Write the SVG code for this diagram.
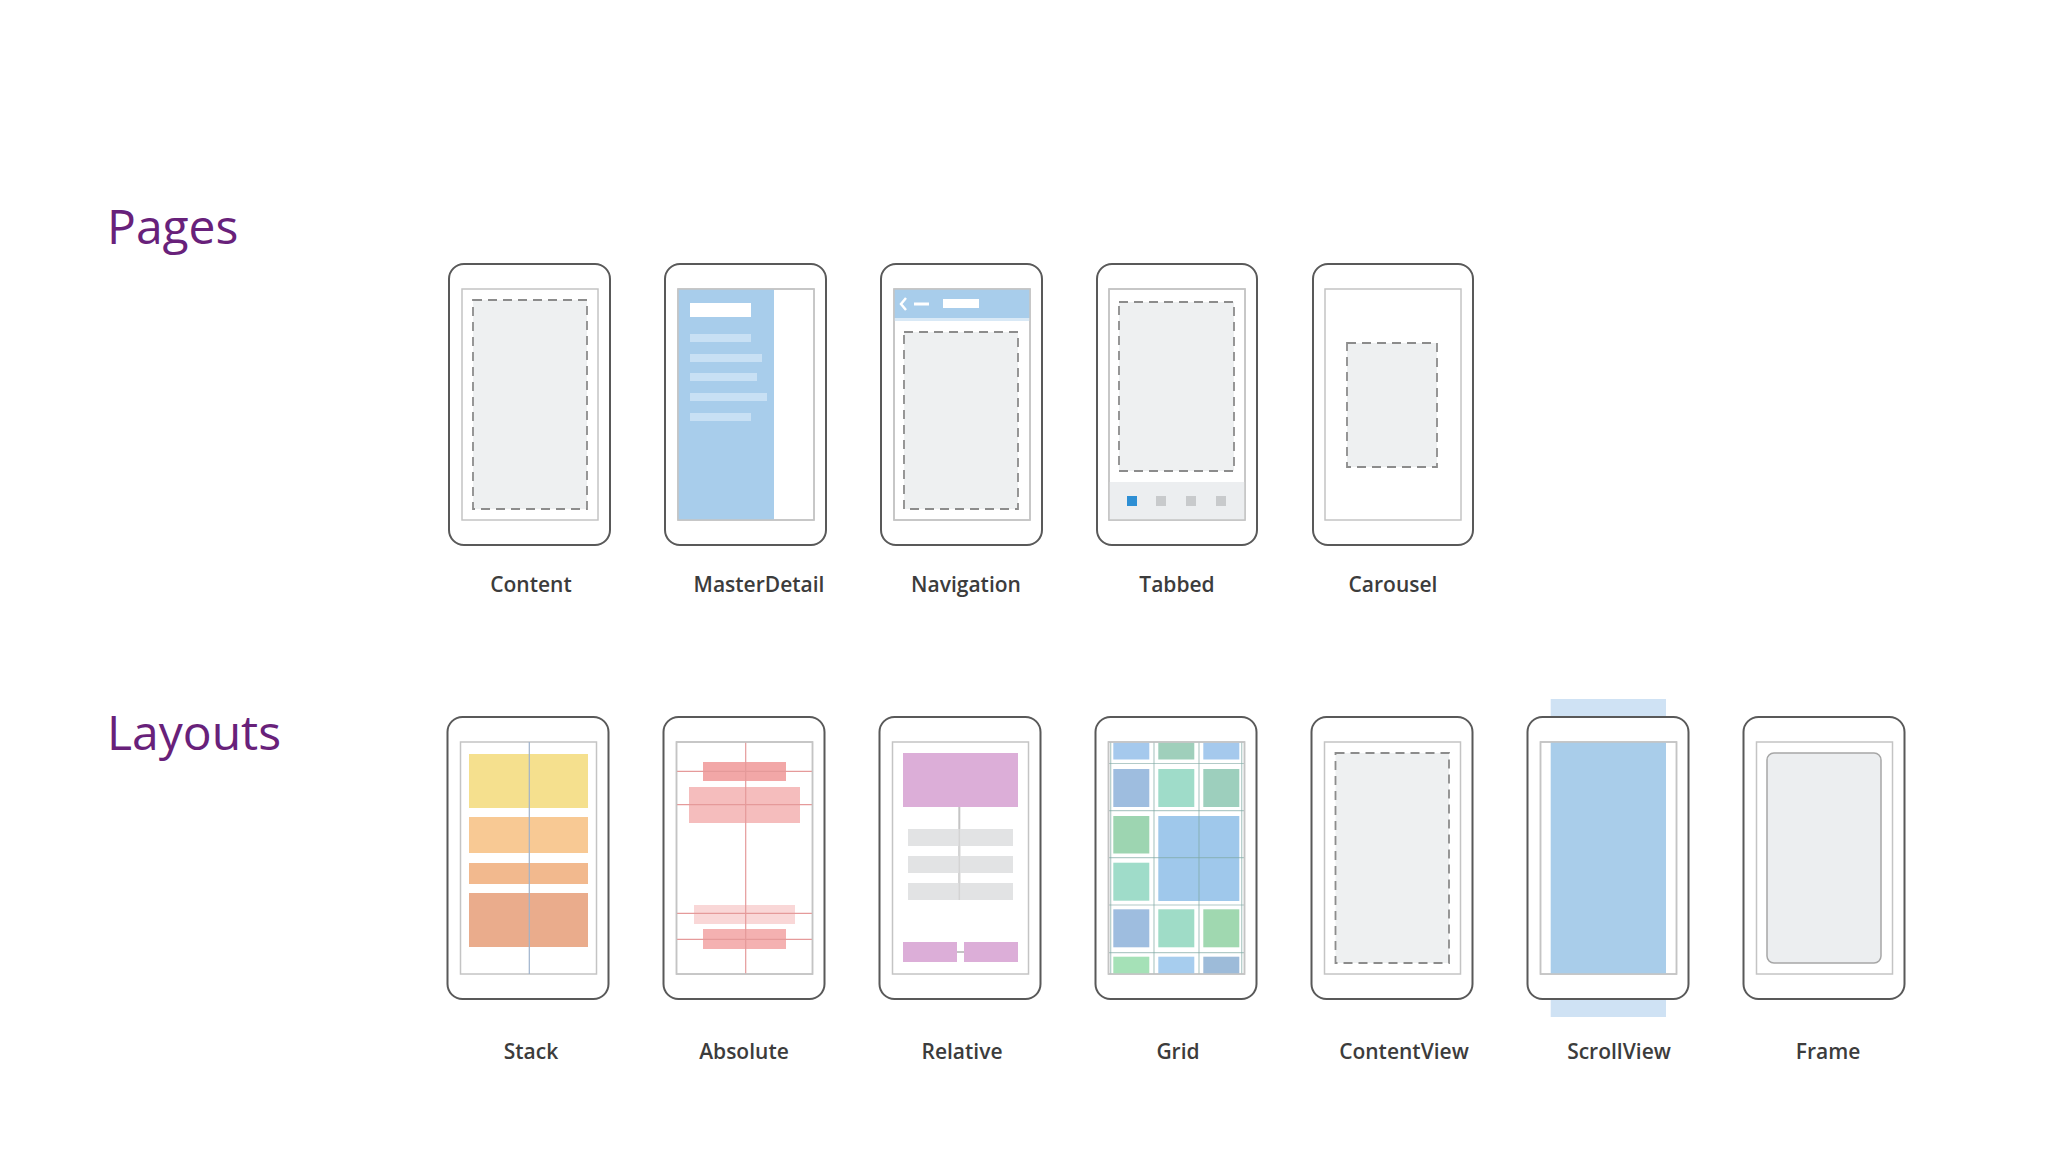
<svg xmlns="http://www.w3.org/2000/svg" width="2048" height="1152" viewBox="0 0 2048 1152">
<style>
.bg{fill:#ffffff}
.title{font-family:"Open Sans","Noto Sans","Liberation Sans",sans-serif;font-size:48px;fill:#68217a}
.label{font-family:"Open Sans","Noto Sans","Liberation Sans",sans-serif;font-size:21px;font-weight:600;fill:#3c3c3c;text-anchor:middle}
.phone{fill:#ffffff;stroke:#595959;stroke-width:2}
.screen{fill:#ffffff;stroke:#c4c4c4;stroke-width:1.5}
.screenline{fill:none;stroke:#c4c4c4;stroke-width:1.5}
.dash{fill:#eef0f1;stroke:#8c8c8c;stroke-width:1.8;stroke-dasharray:9 6}
.blue{fill:#a8cdeb}
.mdline{fill:#c8e0f4}
.white{fill:#ffffff}
.tabbar{fill:#eceef0}
.tabon{fill:#2e8fd4}
.taboff{fill:#c8cacc}
.gbar{fill:#e2e3e4}
.purp{fill:#dcaed8}
.rline{stroke:#c4c4c4;stroke-width:2;fill:none}
.aline{stroke:#e59a9a;stroke-width:1.2;fill:none}
.sline{stroke:#9fb3cc;stroke-width:1.2;fill:none}
.gline{stroke:#7fa9a3;stroke-opacity:0.6;stroke-width:1.2;fill:none}
</style>
<rect class="bg" x="0" y="0" width="2048" height="1152"/>

<g id="title-pages"><text class="title" x="107" y="244">Pages</text></g>
<g id="title-layouts"><text class="title" x="107" y="750">Layouts</text></g>

<!-- ===== Pages row ===== -->
<g id="page-content">
  <rect class="phone" x="449" y="264" width="161" height="281" rx="15"/>
  <rect class="screen" x="462" y="289" width="136" height="231"/>
  <rect class="dash" x="473" y="300" width="114" height="209"/>
  <text class="label" x="531" y="592">Content</text>
</g>

<g id="page-masterdetail">
  <rect class="phone" x="665" y="264" width="161" height="281" rx="15"/>
  <rect class="screen" x="678" y="289" width="136" height="231"/>
  <rect class="blue" x="678" y="289" width="96" height="231"/>
  <rect class="white" x="690" y="303" width="61" height="14"/>
  <rect class="mdline" x="690" y="334" width="61" height="8"/>
  <rect class="mdline" x="690" y="354" width="72" height="8"/>
  <rect class="mdline" x="690" y="373" width="67" height="8"/>
  <rect class="mdline" x="690" y="393" width="77" height="8"/>
  <rect class="mdline" x="690" y="413" width="61" height="8"/>
  <rect class="screenline" x="678" y="289" width="136" height="231"/>
  <text class="label" x="759" y="592">MasterDetail</text>
</g>

<g id="page-navigation">
  <rect class="phone" x="881" y="264" width="161" height="281" rx="15"/>
  <rect class="screen" x="894" y="289" width="136" height="231"/>
  <rect class="blue" x="894" y="289" width="136" height="29"/>
  <rect fill="#d9e9f6" x="894" y="318" width="136" height="3"/>
  <polyline points="906,298 901,304 906,310" fill="none" stroke="#ffffff" stroke-width="2.5"/>
  <rect class="white" x="914" y="302.5" width="15" height="3"/>
  <rect class="white" x="943" y="299" width="36" height="9"/>
  <rect class="dash" x="904" y="332" width="114" height="177"/>
  <rect class="screenline" x="894" y="289" width="136" height="231"/>
  <text class="label" x="966" y="592">Navigation</text>
</g>

<g id="page-tabbed">
  <rect class="phone" x="1097" y="264" width="160" height="281" rx="15"/>
  <rect class="screen" x="1109" y="289" width="136" height="231"/>
  <rect class="tabbar" x="1109" y="482" width="136" height="38"/>
  <rect class="dash" x="1119" y="302" width="115" height="169"/>
  <rect class="tabon" x="1127" y="496" width="10" height="10"/>
  <rect class="taboff" x="1156" y="496" width="10" height="10"/>
  <rect class="taboff" x="1186" y="496" width="10" height="10"/>
  <rect class="taboff" x="1216" y="496" width="10" height="10"/>
  <rect class="screenline" x="1109" y="289" width="136" height="231"/>
  <text class="label" x="1177" y="592">Tabbed</text>
</g>

<g id="page-carousel">
  <rect class="phone" x="1313" y="264" width="160" height="281" rx="15"/>
  <rect class="screen" x="1325" y="289" width="136" height="231"/>
  <rect class="dash" x="1347" y="343" width="90" height="124"/>
  <text class="label" x="1393" y="592">Carousel</text>
</g>

<!-- ===== Layouts row ===== -->
<g id="layout-stack">
  <rect class="phone" x="447.5" y="717" width="161" height="282" rx="15"/>
  <rect class="screen" x="460.5" y="742" width="136" height="232"/>
  <rect fill="#f5e08e" x="469" y="754" width="119" height="54"/>
  <rect fill="#f8c994" x="469" y="817" width="119" height="36"/>
  <rect fill="#f2b98e" x="469" y="863" width="119" height="21"/>
  <rect fill="#eaac8c" x="469" y="893" width="119" height="54"/>
  <line class="sline" x1="529.3" y1="742" x2="529.3" y2="974"/>
  <text class="label" x="531" y="1059">Stack</text>
</g>

<g id="layout-absolute">
  <rect class="phone" x="663.5" y="717" width="161" height="282" rx="15"/>
  <rect class="screen" x="676.5" y="742" width="136" height="232"/>
  <rect fill="#f2a7a7" x="703" y="762" width="83" height="19"/>
  <rect fill="#f5bdbd" x="689" y="787" width="111" height="36"/>
  <rect fill="#f9d7d7" x="694" y="905" width="101" height="19"/>
  <rect fill="#f4b1b1" x="703" y="929" width="83" height="20"/>
  <line class="aline" x1="745.7" y1="742" x2="745.7" y2="974"/>
  <line class="aline" x1="676.5" y1="771.3" x2="812.5" y2="771.3"/>
  <line class="aline" x1="676.5" y1="804.7" x2="812.5" y2="804.7"/>
  <line class="aline" x1="676.5" y1="913.3" x2="812.5" y2="913.3"/>
  <line class="aline" x1="676.5" y1="939.3" x2="812.5" y2="939.3"/>
  <rect class="screenline" x="676.5" y="742" width="136" height="232"/>
  <text class="label" x="744" y="1059">Absolute</text>
</g>

<g id="layout-relative">
  <rect class="phone" x="879.5" y="717" width="161" height="282" rx="15"/>
  <rect class="screen" x="892.5" y="742" width="136" height="232"/>
  <rect class="purp" x="903" y="753" width="115" height="54"/>
  <line class="rline" x1="959.3" y1="807" x2="959.3" y2="883"/>
  <rect class="gbar" x="908" y="829" width="105" height="17"/>
  <rect class="gbar" x="908" y="856" width="105" height="17"/>
  <rect class="gbar" x="908" y="883" width="105" height="17"/>
  <line x1="959.3" y1="829" x2="959.3" y2="900" stroke="#d4d4d4" stroke-width="1.5"/>
  <rect class="purp" x="903" y="942" width="54" height="20"/>
  <rect class="purp" x="964" y="942" width="54" height="20"/>
  <line class="rline" x1="957" y1="952" x2="964" y2="952"/>
  <text class="label" x="962" y="1059">Relative</text>
</g>

<g id="layout-grid">
  <rect class="phone" x="1095.5" y="717" width="161" height="282" rx="15"/>
  <rect class="screen" x="1108.5" y="742" width="136" height="232"/>
  <rect fill="#a5c9ed" x="1113.3" y="742.5" width="36" height="17"/>
  <rect fill="#9fcfbb" x="1158.3" y="742.5" width="36" height="17"/>
  <rect fill="#a5c9ed" x="1203.3" y="742.5" width="36" height="17"/>
  <rect fill="#9ebddf" x="1113.3" y="769" width="36" height="38"/>
  <rect fill="#9fdcc9" x="1158.3" y="769" width="36" height="38"/>
  <rect fill="#9dcfbd" x="1203.3" y="769" width="36" height="38"/>
  <rect fill="#9dd5b1" x="1113.3" y="816" width="36" height="37.5"/>
  <rect fill="#9fc8eb" x="1158.3" y="816" width="81" height="85"/>
  <rect fill="#9fdcc9" x="1113.3" y="862.7" width="36" height="38"/>
  <rect fill="#9ebddf" x="1113.3" y="909.3" width="36" height="38"/>
  <rect fill="#9fdcc7" x="1158.3" y="909.3" width="36" height="38"/>
  <rect fill="#a0d8b0" x="1203.3" y="909.3" width="36" height="38"/>
  <rect fill="#a5e1b7" x="1113.3" y="956.7" width="36" height="17.3"/>
  <rect fill="#a7cdee" x="1158.3" y="956.7" width="36" height="17.3"/>
  <rect fill="#9dbbd9" x="1203.3" y="956.7" width="36" height="17.3"/>
  <line class="gline" x1="1110.7" y1="742" x2="1110.7" y2="974"/>
  <line class="gline" x1="1154" y1="742" x2="1154" y2="974"/>
  <line class="gline" x1="1199" y1="742" x2="1199" y2="974"/>
  <line class="gline" x1="1241.7" y1="742" x2="1241.7" y2="974"/>
  <line class="gline" x1="1108.5" y1="763.5" x2="1244.5" y2="763.5"/>
  <line class="gline" x1="1108.5" y1="810.7" x2="1244.5" y2="810.7"/>
  <line class="gline" x1="1108.5" y1="857.7" x2="1244.5" y2="857.7"/>
  <line class="gline" x1="1108.5" y1="905" x2="1244.5" y2="905"/>
  <line class="gline" x1="1108.5" y1="952.7" x2="1244.5" y2="952.7"/>
  <rect class="screenline" x="1108.5" y="742" width="136" height="232"/>
  <text class="label" x="1178" y="1059">Grid</text>
</g>

<g id="layout-contentview">
  <rect class="phone" x="1311.5" y="717" width="161" height="282" rx="15"/>
  <rect class="screen" x="1324.5" y="742" width="136" height="232"/>
  <rect class="dash" x="1335.5" y="753" width="113.5" height="210"/>
  <text class="label" x="1404" y="1059">ContentView</text>
</g>

<g id="layout-scrollview">
  <rect fill="#cfe2f4" x="1550.7" y="699" width="115.3" height="318"/>
  <rect class="phone" x="1527.5" y="717" width="161" height="282" rx="15"/>
  <rect class="screen" x="1540.5" y="742" width="136" height="232"/>
  <rect fill="#a9cdea" x="1550.7" y="742" width="115.3" height="232"/>
  <rect class="screenline" x="1540.5" y="742" width="136" height="232"/>
  <text class="label" x="1619" y="1059">ScrollView</text>
</g>

<g id="layout-frame">
  <rect class="phone" x="1743.5" y="717" width="161" height="282" rx="15"/>
  <rect class="screen" x="1756.5" y="742" width="136" height="232"/>
  <rect x="1767" y="753" width="114" height="210" rx="7" fill="#eceef0" stroke="#a6a6a6" stroke-width="1.5"/>
  <text class="label" x="1828" y="1059">Frame</text>
</g>

<g id="connectors"></g>
</svg>
